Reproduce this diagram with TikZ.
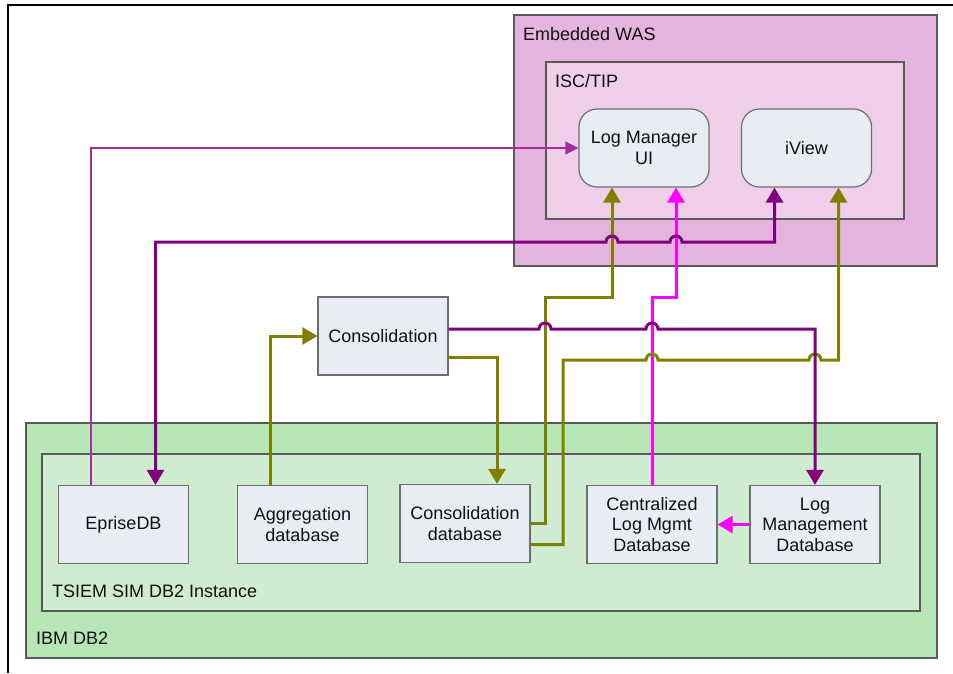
\documentclass[tikz,border=0pt]{standalone}
\usepackage{fontspec}
\setmainfont{Liberation Sans}
\usepackage{tikz}
\usetikzlibrary{arrows.meta}
\definecolor{wasfill}{HTML}{E4B4DE}
\definecolor{iscfill}{HTML}{EECEE8}
\definecolor{dbfill}{HTML}{B6E5B6}
\definecolor{instfill}{HTML}{D0ECD0}
\definecolor{boxfill}{HTML}{E8ECF5}
\definecolor{boxline}{HTML}{6E6E6E}
\definecolor{frameline}{HTML}{5A5A5A}
\definecolor{txt}{HTML}{111111}
\definecolor{olivec}{HTML}{808000}
\definecolor{purplec}{HTML}{800080}
\definecolor{magc}{HTML}{FF00FF}
\definecolor{thinpc}{HTML}{A030A0}
\tikzset{
	dbbox/.style={draw=boxline,fill=boxfill,line width=1.2pt,minimum width=130pt,minimum height=78pt,
		align=center,inner sep=2pt,text=txt,font=\fontsize{18}{20.5}\selectfont},
	uibox/.style={dbbox,rounded corners=18pt},
	area/.style={draw=frameline,line width=1.2pt},
	lbl/.style={anchor=base west,inner sep=0pt,text=txt,font=\fontsize{18}{20.5}\selectfont},
	bigtip/.tip={Triangle[length=15pt,width=17pt]},
	oliveline/.style={draw=olivec,line width=3pt,-bigtip},
	purpleline/.style={draw=purplec,line width=3pt,-bigtip},
	magline/.style={draw=magc,line width=3pt,-bigtip},
	thinpurple/.style={draw=thinpc,line width=1.6pt,-{Triangle[length=13pt,width=13pt]}}
}
\begin{document}
\begin{tikzpicture}[x=1pt,y=-1pt]
			\useasboundingbox (0,0) rectangle (953,673);
			\fill[white] (0,0) rectangle (953,673);
			\draw[line width=1.2pt] (953,5) -- (8,5) -- (8,673);
			\draw[area,fill=wasfill] (514,15) rectangle (937,266);
			\draw[area,fill=iscfill] (546,62) rectangle (904,219);
			\draw[area,fill=dbfill] (26,423) rectangle (937,658);
			\draw[area,fill=instfill] (42,454) rectangle (920,611);
			\node[lbl] (waslbl) at (523,40) {Embedded WAS};
			\node[lbl] (isclbl) at (555,87) {ISC/TIP};
			\node[lbl] (instlbl) at (52,597) {TSIEM SIM DB2 Instance};
			\node[lbl] (db2lbl) at (36,644) {IBM DB2};
			\node[uibox] (lmui) at (644,148) {Log Manager\\UI};
			\node[uibox] (iview) at (806.5,148) {iView};
			\node[dbbox] (cons) at (383,336) {Consolidation};
			\node[dbbox] (eprise) at (123.5,524.5) {EpriseDB};
			\node[dbbox] (aggr) at (302.5,524.5) {Aggregation\\database};
			\node[dbbox] (consdb) at (465,523.5) {Consolidation\\database};
			\node[dbbox] (central) at (652,524.5) {Centralized\\Log Mgmt\\Database};
			\node[dbbox] (logmgmt) at (815,524.5) {Log\\Management\\Database};
			\draw[thinpurple] ([xshift=-32.5pt]eprise.north) |- (lmui.west);
			\draw[oliveline] ([xshift=-32pt]aggr.north) |- (cons.west);
			\draw[oliveline] ([yshift=-21pt]cons.east) -| ([xshift=32pt]consdb.north);
			\draw[oliveline] (consdb.east) -| (545,297) -| ([xshift=-32pt]lmui.south);
			\draw[magline] (central.north) |- (676,297) -- ([xshift=32pt]lmui.south);
			\draw[magline] (logmgmt.west) -- (central.east);
			\draw[oliveline] ([yshift=-21pt]consdb.east) -| (563,360) -- (646,360)
				arc[start angle=180,end angle=0,radius=6pt] -- (809,360)
				arc[start angle=180,end angle=0,radius=6pt] -| ([xshift=32pt]iview.south);
			\draw[purpleline] ([yshift=7pt]cons.east) -- (539,329)
				arc[start angle=180,end angle=0,radius=6pt] -- (646,329)
				arc[start angle=180,end angle=0,radius=6pt] -| (logmgmt.north);
			\draw[purpleline,bigtip-bigtip] ([xshift=32pt]eprise.north) |- (606,242)
				arc[start angle=180,end angle=0,radius=6pt] -- (670,242)
				arc[start angle=180,end angle=0,radius=6pt] -| ([xshift=-32pt]iview.south);
\end{tikzpicture}
\end{document}
